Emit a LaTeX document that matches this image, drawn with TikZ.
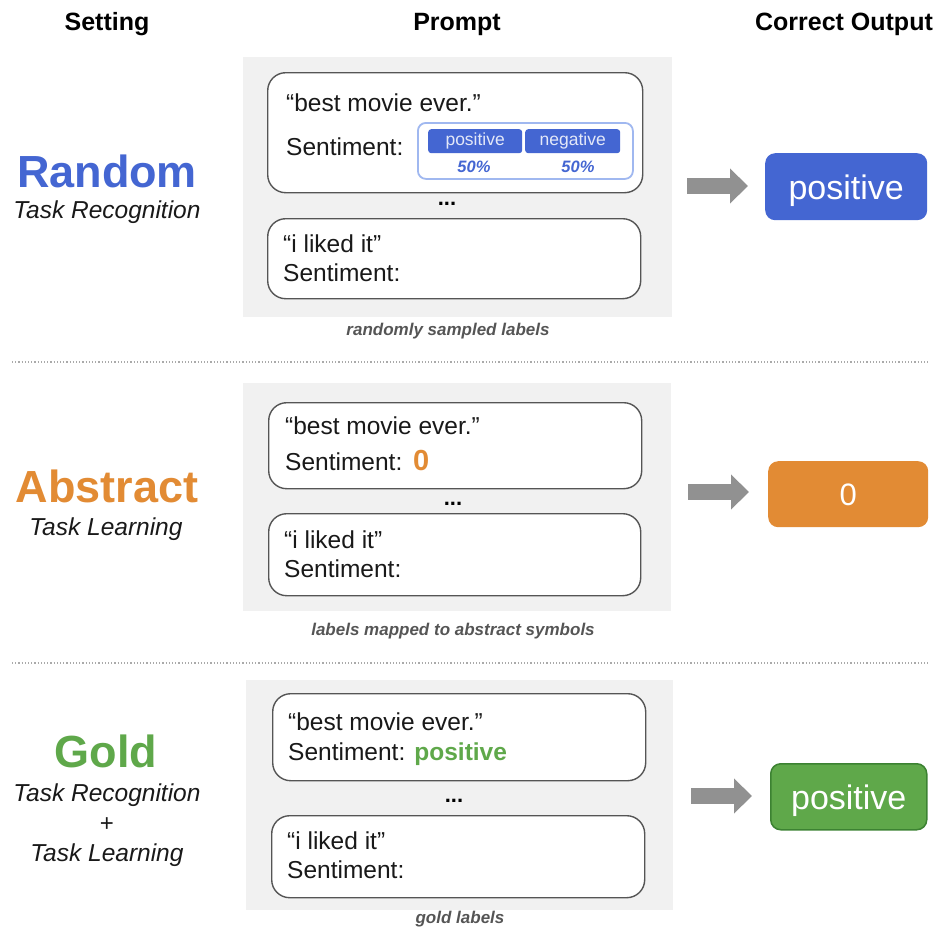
\documentclass[tikz,border=0pt]{standalone}
\usepackage{fontspec}
\setmainfont{Liberation Sans}
\usetikzlibrary{arrows.meta,positioning}

\definecolor{panelgray}{RGB}{241,241,241}
\definecolor{boxgray}{RGB}{85,85,85}
\definecolor{textdark}{RGB}{25,25,25}
\definecolor{capgray}{RGB}{85,85,85}
\definecolor{myblue}{RGB}{68,102,210}
\definecolor{lightblue}{RGB}{160,184,240}
\definecolor{myorange}{RGB}{226,139,52}
\definecolor{mygreen}{RGB}{95,168,74}
\definecolor{darkgreen}{RGB}{60,130,50}
\definecolor{arrowgray}{RGB}{145,145,145}
\definecolor{sepgray}{RGB}{170,170,170}

\newcommand{\fs}[1]{\fontsize{#1}{#1}\selectfont}

\begin{document}
\begin{tikzpicture}[x=1pt,y=-1pt,
    head/.style={anchor=base, font=\fs{25}\bfseries, text=black, inner sep=0pt},
    setting/.style={anchor=base, font=\fs{45}\bfseries, inner sep=0pt},
    task/.style={anchor=base, font=\fs{24.5}\itshape, text=textdark, inner sep=0pt},
    panel/.style={fill=panelgray, draw=none, inner sep=0pt, anchor=north west},
    prompt/.style={draw=boxgray, line width=1.4pt, fill=white, rounded corners=18pt, inner sep=0pt, anchor=north west},
    txt/.style={anchor=base west, font=\fs{24.5}, text=textdark, inner sep=0pt},
    dots/.style={anchor=base, font=\fs{22}\bfseries, inner sep=0pt},
    caption/.style={anchor=base, font=\fs{17}\bfseries\itshape, text=capgray, inner sep=0pt},
    chip/.style={fill=myblue, rounded corners=3pt, inner sep=0pt, anchor=north west, text=white!85!myblue, font=\fs{17.5}},
    pct/.style={anchor=base, font=\fs{16.5}\bfseries\itshape, text=myblue, inner sep=0pt},
    outbox/.style={rounded corners=10pt, inner sep=0pt, text depth=0pt, anchor=north west, text=white, font=\fs{34}},
    bigarrow/.style={arrowgray, line width=16pt, -{Triangle[length=18pt,width=34pt]}},
    sep/.style={sepgray, line width=1.2pt, dotted}
]
    \useasboundingbox (0,0) rectangle (938,927);

    % column headers
    \node[head] (hset) at (107,30) {Setting};
    \node[head] (hprompt) at (457,30) {Prompt};
    \node[head] (hout) at (844,30) {Correct Output};

    % settings
    \node[setting, text=myblue] (random) at (107,187) {Random};
    \node[task] (randtask) at (107,218) {Task Recognition};
    \node[setting, text=myorange] (abstract) at (107,502) {Abstract};
    \node[task] (abstask) at (106,535) {Task Learning};
    \node[setting, text=mygreen] (gold) at (106,767) {Gold};
    \node[task] (goldtaskA) at (107,801) {Task Recognition};
    \node[task, font=\fs{24}] (plus) at (107,831) {+};
    \node[task] (goldtaskB) at (107,861) {Task Learning};

    % random row
    \node[panel, minimum width=429pt, minimum height=260pt] (panelA) at (243,57) {};
    \node[prompt, minimum width=375pt, minimum height=120pt] (boxAa) at (267,72) {};
    \node[txt] (qAa) at (286,111) {“best movie ever.”};
    \node[txt] (sAa) at (286,155) {Sentiment:};
    \node[draw=lightblue, line width=1.8pt, rounded corners=8pt, inner sep=0pt, anchor=north west,
          minimum width=215pt, minimum height=56pt] (choice) at (417,122) {};
    \node[chip, minimum width=94pt, minimum height=24pt] (cpos) at (428,129) {positive};
    \node[chip, minimum width=95pt, minimum height=24pt] (cneg) at (525,129) {negative};
    \node[pct] (ppos) at (474,172) {50\%};
    \node[pct] (pneg) at (578,172) {50\%};
    \node[dots] (dotsA) at (447,205) {...};
    \node[prompt, minimum width=373pt, minimum height=80pt] (boxAb) at (267,218) {};
    \node[txt] (qAb) at (283,252) {“i liked it”};
    \node[txt] (sAb) at (283,281) {Sentiment:};
    \node[caption] (capA) at (448,335) {randomly sampled labels};

    % abstract row
    \node[panel, minimum width=428pt, minimum height=228pt] (panelB) at (243,383) {};
    \node[prompt, minimum width=373pt, minimum height=86pt] (boxBa) at (268,402) {};
    \node[txt] (qBa) at (285,434) {“best movie ever.”};
    \node[txt] (sBa) at (285,470) {Sentiment:};
    \node[txt, font=\fs{29}\bfseries, text=myorange] (zeroB) at (413,470) {0};
    \node[dots] (dotsB) at (453,505) {...};
    \node[prompt, minimum width=372pt, minimum height=82pt] (boxBb) at (268,513) {};
    \node[txt] (qBb) at (284,548) {“i liked it”};
    \node[txt] (sBb) at (284,577) {Sentiment:};
    \node[caption] (capB) at (453,635) {labels mapped to abstract symbols};

    % gold row
    \node[panel, minimum width=427pt, minimum height=230pt] (panelC) at (246,680) {};
    \node[prompt, minimum width=373pt, minimum height=87pt] (boxCa) at (272,693) {};
    \node[txt] (qCa) at (288,730) {“best movie ever.”};
    \node[txt] (sCa) at (288,760) {Sentiment: \textcolor{mygreen}{\bfseries positive}};
    \node[dots] (dotsC) at (454,802) {...};
    \node[prompt, minimum width=373pt, minimum height=82pt] (boxCb) at (271,815) {};
    \node[txt] (qCb) at (287,849) {“i liked it”};
    \node[txt] (sCb) at (287,878) {Sentiment:};
    \node[caption] (capC) at (460,923) {gold labels};

    % separators
    \draw[sep] (12,362) -- (928,362);
    \draw[sep] (12,663) -- (928,663);

    % outputs
    \node[outbox, fill=myblue, minimum width=162pt, minimum height=67pt] (outA) at (765,153) {positive};
    \node[outbox, fill=myorange, minimum width=160pt, minimum height=66pt, font=\fs{31}] (outB) at (768,461) {0};
    \node[outbox, fill=mygreen, draw=darkgreen, line width=1.5pt, minimum width=156pt, minimum height=66pt] (outC) at (770,763) {positive};

    \coordinate (aA) at (687,186);
    \coordinate (aB) at (688,492);
    \coordinate (aC) at (691,796);
    \draw[bigarrow, shorten >=17pt] (aA) -- (aA -| outA.west);
    \draw[bigarrow, shorten >=19pt] (aB) -- (aB -| outB.west);
    \draw[bigarrow, shorten >=18pt] (aC) -- (aC -| outC.west);
\end{tikzpicture}
\end{document}
